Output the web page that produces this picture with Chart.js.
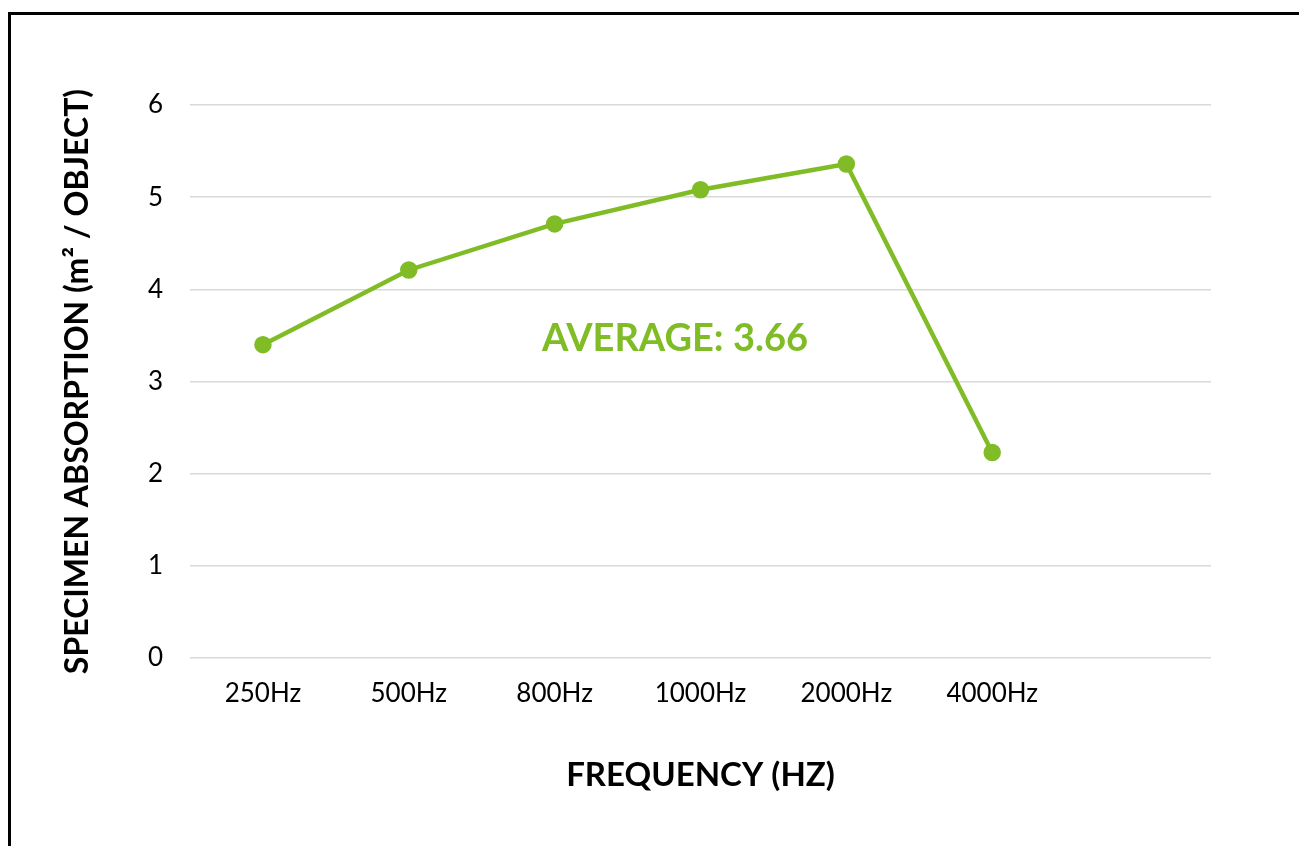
<!DOCTYPE html>
<html lang="en">
  <head>
    <meta charset="utf-8">
    <script src="https://cdn.jsdelivr.net/npm/chart.js@4.4.1/dist/chart.umd.min.js"></script>
    <title>Specimen absorption</title>
    <style>
      html, body { margin: 0; padding: 0; background: #fff; overflow: hidden; }
      .frame { position: absolute; left: 8px; top: 12px; width: 1400px; height: 1000px;
               border-left: 3px solid #000; border-top: 3px solid #000; }
      .chartContainer { position: absolute; left: 0; top: 0; width: 1299px; height: 846px; }
    </style>
  </head>
  <body>
    <div class="frame"></div>
    <div class="chartContainer">
      <canvas id="myChart" width="1299" height="846"></canvas>
    </div>
    <script type="text/javascript">
      const frequencies = ['250Hz', '500Hz', '800Hz', '1000Hz', '2000Hz', '4000Hz', ''];
      const absorption = [3.40, 4.21, 4.71, 5.08, 5.36, 2.23, null];
      const yTicks = [0, 1, 2, 3, 4, 5, 6];
      const averageLabel = 'AVERAGE: 3.66';
      const green = '#80bc26';

      // draws the average note in the middle of the plot
      const averageNote = {
        id: 'averageNote',
        afterDatasetsDraw(chart) {
          const ctx = chart.ctx;
          ctx.save();
          ctx.font = 'bold 38px Lato';
          ctx.fillStyle = green;
          ctx.textAlign = 'center';
          ctx.textBaseline = 'middle';
          ctx.fillText(averageLabel, 675, 339);
          ctx.restore();
        }
      };

      const ctx = document.getElementById('myChart').getContext('2d');
      const myChart = new Chart(ctx, {
        type: 'line',
        data: {
          labels: frequencies,
          datasets: [{
            label: 'Specimen absorption',
            data: absorption,
            borderColor: green,
            backgroundColor: green,
            borderWidth: 4.5,
            pointRadius: 6.5,
            pointHoverRadius: 6.5,
            tension: 0
          }]
        },
        options: {
          responsive: false,
          animation: false,
          layout: { padding: { top: 105, right: 88, left: 58, bottom: 51 } },
          plugins: { legend: { display: false }, tooltip: { enabled: false } },
          scales: {
            x: {
              offset: true,
              grid: { display: false },
              border: { display: false },
              ticks: { color: '#000', font: { family: 'Lato', size: 26 }, padding: 12, maxRotation: 0 },
              title: { display: true, text: 'FREQUENCY (HZ)', color: '#000',
                       font: { family: 'Lato', size: 33, weight: 'bold' }, padding: 0 },
              afterFit(scale) { scale.height = 846 - 658 - 51; }
            },
            y: {
              min: 0,
              max: 6,
              afterBuildTicks(scale) { scale.ticks = yTicks.map(v => ({ value: v })); },
              grid: { color: '#d9d9d9', lineWidth: 1.5, drawTicks: false },
              border: { display: false },
              ticks: { color: '#000', font: { family: 'Lato', size: 26 }, padding: 27 },
              title: { display: true, text: 'SPECIMEN ABSORPTION (m\u00b2 / OBJECT)', color: '#000',
                       font: { family: 'Lato', size: 32, weight: 'bold' }, padding: 0 },
              afterFit(scale) { scale.width = 190 - 58; }
            }
          }
        },
        plugins: [averageNote]
      });
    </script>
  </body>
</html>
